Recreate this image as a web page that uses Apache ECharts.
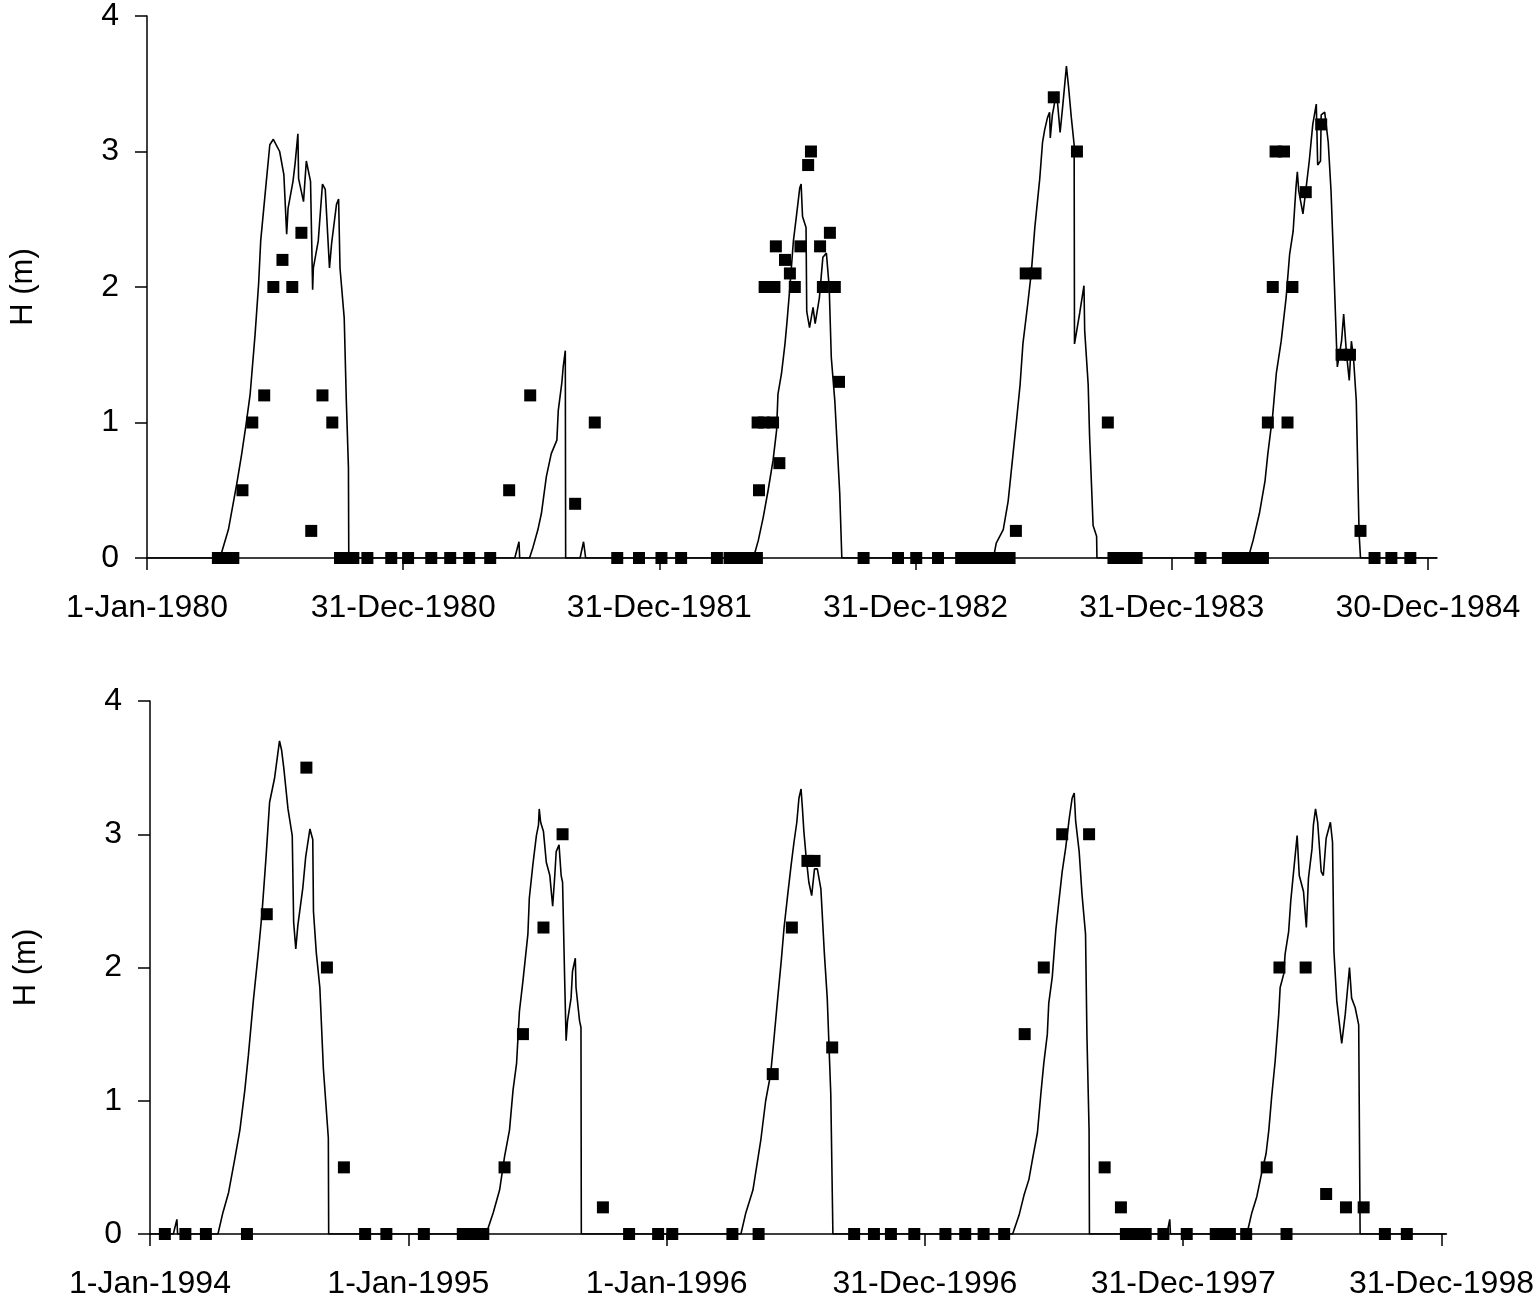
<!DOCTYPE html>
<html>
<head>
<meta charset="utf-8">
<script src="https://cdn.jsdelivr.net/npm/echarts@6/dist/echarts.min.js"></script>
<style>
  html, body { margin: 0; padding: 0; background: #fff; }
  #chart { width: 1537px; height: 1300px; }
</style>
</head>
<body>
<div id="chart"></div>
<script>
// x values are days counted from the first tick of each panel
const tickDays = [0, 365, 730, 1095, 1460, 1825];
const topTickLabels = ["1-Jan-1980", "31-Dec-1980", "31-Dec-1981", "31-Dec-1982", "31-Dec-1983", "30-Dec-1984"];
const bottomTickLabels = ["1-Jan-1994", "1-Jan-1995", "1-Jan-1996", "31-Dec-1996", "31-Dec-1997", "31-Dec-1998"];
const yTicks = [0, 1, 2, 3, 4];

// simulated water depth, 1980-1984
const topSim = [
    [0, 0],
    [104, 0], [116, 0.21], [128, 0.55], [135, 0.77], [141, 0.98], [147, 1.21], [154, 1.65], [159, 2.02],
    [162, 2.34], [170, 2.78], [175, 3.05], [180, 3.09], [189, 3.0], [195, 2.83], [199, 2.39], [201, 2.58],
    [208, 2.78], [211, 2.91], [215, 3.13], [216, 2.80], [223, 2.63], [227, 2.93], [233, 2.78], [236, 1.98],
    [237, 2.14], [244, 2.34], [250, 2.76], [254, 2.72], [260, 2.14], [263, 2.32], [270, 2.61], [273, 2.65],
    [275, 2.14], [281, 1.77], [284, 1.16], [287, 0.67], [287.5, 0],
    [524, 0], [530, 0.12], [531, 0], [545, 0], [550, 0.08], [557, 0.21], [562, 0.33], [569, 0.60],
    [576, 0.77], [584, 0.87], [586, 1.09], [591, 1.29], [593, 1.41], [596, 1.53], [596.5, 0],
    [617, 0], [622, 0.12], [625, 0],
    [864, 0], [871, 0.13], [878, 0.30], [885, 0.5], [892, 0.72], [897, 0.94], [899, 1.21], [904, 1.36],
    [909, 1.58], [912, 1.75], [916, 2.0], [921, 2.34], [925, 2.51], [930, 2.73], [932, 2.76], [934, 2.52],
    [939, 2.44], [940, 1.82], [944, 1.70], [949, 1.85], [952, 1.73], [958, 1.92], [963, 2.22], [968, 2.25],
    [972, 2.0], [975, 1.48], [980, 1.16], [987, 0.48], [990, 0],
    [1206, 0], [1210, 0.11], [1220, 0.21], [1227, 0.42], [1234, 0.77], [1239, 1.02], [1244, 1.28],
    [1248, 1.58], [1255, 1.88], [1260, 2.11], [1265, 2.44], [1272, 2.80], [1276, 3.07], [1279, 3.16],
    [1283, 3.25], [1286, 3.29], [1287, 3.10], [1290, 3.27], [1296, 3.44], [1301, 3.14], [1305, 3.35],
    [1310, 3.63], [1313, 3.48], [1317, 3.25], [1321, 3.05], [1321.5, 1.58], [1324, 1.58], [1329, 1.81],
    [1335, 2.01], [1336, 1.68], [1341, 1.28], [1343, 0.90], [1348, 0.24], [1353, 0.16], [1353.5, 0],
    [1569, 0], [1576, 0.13], [1585, 0.33], [1593, 0.57], [1597, 0.77], [1604, 1.06], [1609, 1.36],
    [1616, 1.60], [1623, 1.92], [1628, 2.24], [1633, 2.41], [1637, 2.73], [1639, 2.85], [1641, 2.71],
    [1647, 2.54], [1651, 2.71], [1656, 2.93], [1661, 3.20], [1666, 3.35], [1668, 2.90], [1672, 2.93],
    [1673, 3.27], [1678, 3.29], [1683, 3.07], [1687, 2.71], [1690, 2.29], [1695, 1.55], [1696, 1.41],
    [1702, 1.60], [1705, 1.80], [1709, 1.51], [1713, 1.31], [1716, 1.60], [1719, 1.48], [1723, 1.16],
    [1727, 0.18], [1729, 0], [1838, 0]
];

// observed water depth, 1980-1984
const topObs = [
    [101, 0], [113, 0], [123, 0], [136, 0.5], [150, 1.0], [167, 1.2], [180, 2.0], [193, 2.2], [207, 2.0],
    [220, 2.4], [234, 0.2], [250, 1.2], [264, 1.0], [275, 0], [285, 0], [294, 0], [314, 0], [348, 0],
    [372, 0], [405, 0], [432, 0], [459, 0], [489, 0], [516, 0.5], [546, 1.2], [610, 0.4], [638, 1.0],
    [670, 0], [701, 0], [733, 0], [761, 0], [812, 0], [830, 0], [840, 0], [850, 0], [860, 0], [869, 0],
    [872, 0.5], [870, 1.0], [879, 1.0], [892, 1.0], [901, 0.7], [880, 2.0], [894, 2.0], [896, 2.3],
    [909, 2.2], [916, 2.1], [923, 2.0], [931, 2.3], [942, 2.9], [946, 3.0], [959, 2.3], [973, 2.4],
    [963, 2.0], [980, 2.0], [986, 1.3], [1021, 0], [1070, 0], [1096, 0], [1127, 0], [1160, 0], [1168, 0],
    [1176, 0], [1184, 0], [1192, 0], [1200, 0], [1208, 0], [1215, 0], [1222, 0], [1229, 0], [1238, 0.2],
    [1252, 2.1], [1266, 2.1], [1292, 3.4], [1325, 3.0], [1369, 1.0], [1377, 0], [1389, 0], [1400, 0],
    [1410, 0], [1501, 0], [1540, 0], [1549, 0], [1558, 0], [1566, 0], [1575, 0], [1583, 0], [1590, 0],
    [1597, 1.0], [1625, 1.0], [1604, 2.0], [1632, 2.0], [1608, 3.0], [1620, 3.0], [1651, 2.7], [1673, 3.2],
    [1702, 1.5], [1714, 1.5], [1729, 0.2], [1749, 0], [1773, 0], [1800, 0]
];

// simulated water depth, 1994-1998
const bottomSim = [
    [0, 0], [33, 0], [38, 0.11], [39, 0],
    [96, 0], [103, 0.16], [111, 0.31], [120, 0.57], [127, 0.78], [134, 1.08], [139, 1.34], [146, 1.75],
    [153, 2.11], [158, 2.39], [164, 2.83], [169, 3.24], [176, 3.42], [180, 3.58], [183, 3.70], [186, 3.63],
    [189, 3.50], [195, 3.19], [201, 2.99], [203, 2.34], [206, 2.14], [209, 2.32], [216, 2.60], [220, 2.83],
    [226, 3.04], [230, 2.96], [231, 2.42], [235, 2.11], [240, 1.85], [245, 1.24], [252, 0.72], [252.5, 0],
    [475, 0], [485, 0.16], [494, 0.33], [501, 0.58], [508, 0.78], [513, 1.08], [518, 1.28], [522, 1.67],
    [527, 1.90], [534, 2.25], [536, 2.52], [541, 2.77], [546, 2.99], [549, 3.07], [550, 3.19], [552, 3.09],
    [556, 3.02], [560, 2.79], [565, 2.69], [569, 2.46], [572, 2.69], [574, 2.87], [578, 2.92], [581, 2.69],
    [583, 2.64], [586, 1.90], [588, 1.45], [590, 1.60], [595, 1.77], [597, 1.97], [601, 2.07], [602, 1.85],
    [607, 1.60], [609, 1.55], [609.5, 0],
    [835, 0], [842, 0.16], [852, 0.33], [863, 0.70], [870, 1.00], [877, 1.20], [882, 1.48], [887, 1.77],
    [892, 2.05], [896, 2.30], [901, 2.54], [906, 2.77], [910, 2.94], [914, 3.09], [917, 3.27], [920, 3.34],
    [922, 3.19], [924, 3.02], [927, 2.84], [931, 2.64], [935, 2.54], [939, 2.74], [943, 2.74], [948, 2.59],
    [953, 2.10], [957, 1.77], [962, 1.05], [965, 0],
    [1219, 0], [1228, 0.14], [1235, 0.29], [1242, 0.41], [1247, 0.56], [1254, 0.76], [1259, 1.06],
    [1263, 1.28], [1268, 1.50], [1270, 1.73], [1275, 1.93], [1280, 2.28], [1284, 2.48], [1289, 2.72],
    [1294, 2.90], [1299, 3.12], [1303, 3.27], [1306, 3.31], [1308, 3.10], [1313, 2.87], [1317, 2.55],
    [1322, 2.25], [1324, 1.48], [1327, 0.78], [1327.5, 0],
    [1437, 0], [1441, 0.11], [1442, 0],
    [1550, 0], [1557, 0.16], [1564, 0.28], [1571, 0.46], [1577, 0.60], [1581, 0.78], [1585, 1.03],
    [1590, 1.30], [1595, 1.65], [1597, 1.85], [1602, 1.95], [1604, 2.10], [1609, 2.27], [1612, 2.50],
    [1616, 2.72], [1621, 2.99], [1624, 2.69], [1630, 2.57], [1634, 2.30], [1637, 2.67], [1642, 2.89],
    [1644, 3.07], [1647, 3.19], [1650, 3.09], [1655, 2.72], [1658, 2.69], [1662, 2.97], [1668, 3.09],
    [1671, 2.94], [1673, 2.12], [1677, 1.75], [1684, 1.43], [1689, 1.65], [1695, 2.00], [1698, 1.77],
    [1703, 1.70], [1708, 1.57], [1710, 0], [1832, 0]
];

// observed water depth, 1994-1998
const bottomObs = [
    [21, 0], [50, 0], [79, 0], [137, 0], [165, 2.4], [221, 3.5], [250, 2.0], [274, 0.5], [304, 0],
    [334, 0], [387, 0], [442, 0], [452, 0], [462, 0], [471, 0], [501, 0.5], [527, 1.5], [556, 2.3],
    [583, 3.0], [640, 0.2], [677, 0], [718, 0], [738, 0], [823, 0], [860, 0], [880, 1.2], [907, 2.3],
    [929, 2.8], [939, 2.8], [964, 1.4], [995, 0], [1023, 0], [1047, 0], [1080, 0], [1124, 0], [1152, 0],
    [1178, 0], [1207, 0], [1236, 1.5], [1263, 2.0], [1289, 3.0], [1327, 3.0], [1349, 0.5], [1372, 0.2],
    [1379, 0], [1389, 0], [1399, 0], [1407, 0], [1432, 0], [1465, 0], [1506, 0], [1516, 0], [1526, 0],
    [1549, 0], [1578, 0.5], [1596, 2.0], [1633, 2.0], [1606, 0], [1662, 0.3], [1690, 0.2], [1715, 0.2],
    [1745, 0], [1776, 0]
];

const font = "'Liberation Sans', Arial, sans-serif";

function xAxisFor(gridIndex, max, labels) {
    return {
        type: "value",
        gridIndex: gridIndex,
        min: 0,
        max: max,
        axisLine: { show: true, onZero: false, lineStyle: { color: "#000", width: 1.5 } },
        axisTick: { show: true, customValues: tickDays, length: 12, lineStyle: { color: "#000", width: 1.5 } },
        axisLabel: {
            customValues: tickDays,
            margin: 34,
            color: "#000",
            fontSize: 32,
            fontFamily: font,
            formatter: v => labels[tickDays.indexOf(v)] || ""
        },
        splitLine: { show: false }
    };
}

function yAxisFor(gridIndex) {
    return {
        type: "value",
        gridIndex: gridIndex,
        min: yTicks[0],
        max: yTicks[yTicks.length - 1],
        interval: 1,
        name: "H (m)",
        nameLocation: "middle",
        nameGap: 108,
        nameTextStyle: { color: "#000", fontSize: 31, fontFamily: font },
        axisLine: { show: true, lineStyle: { color: "#000", width: 1.5 } },
        axisTick: { show: true, length: 12, lineStyle: { color: "#000", width: 1.5 } },
        axisLabel: { margin: 28, color: "#000", fontSize: 32, fontFamily: font },
        splitLine: { show: false }
    };
}

function lineSeries(i, data) {
    return {
        type: "line",
        xAxisIndex: i,
        yAxisIndex: i,
        data: data,
        showSymbol: false,
        lineStyle: { color: "#000", width: 1.6 },
        z: 2
    };
}

function obsSeries(i, data) {
    return {
        type: "scatter",
        xAxisIndex: i,
        yAxisIndex: i,
        data: data,
        symbol: "rect",
        symbolSize: 12,
        itemStyle: { color: "#000", opacity: 1 },
        z: 3
    };
}

const chart = echarts.init(document.getElementById("chart"));

const options = {
    animation: false,
    backgroundColor: "#fff",
    grid: [
        { left: 147, top: 14, width: 1290, height: 544 },
        { left: 150, top: 701, width: 1298, height: 536 }
    ],
    xAxis: [xAxisFor(0, 1838, topTickLabels), xAxisFor(1, 1832, bottomTickLabels)],
    yAxis: [yAxisFor(0), yAxisFor(1)],
    series: [
        lineSeries(0, topSim),
        obsSeries(0, topObs),
        lineSeries(1, bottomSim),
        obsSeries(1, bottomObs)
    ]
};

chart.setOption(options);
</script>
</body>
</html>
